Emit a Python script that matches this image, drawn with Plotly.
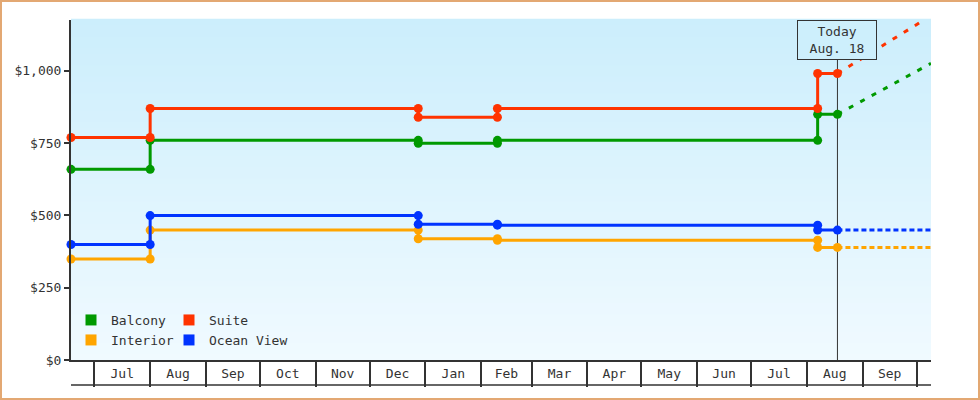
import plotly.graph_objects as go

# price change dates (segment boundaries), today and right edge of the chart
dates = ["2022-06-18", "2022-08-01", "2022-12-28", "2023-02-10", "2023-08-07", "2023-08-18"]
today = "2023-08-18"
range_end = "2023-10-09"

# fare per segment, one value between each pair of dates
balcony = [659, 759, 749, 759, 849]
suite = [769, 869, 839, 869, 990]
interior = [349, 449, 419, 414, 389]
ocean_view = [399, 499, 469, 466, 449]

# projected fares at the right edge
balcony_proj = 1025
suite_proj = 1190
interior_proj = 389
ocean_view_proj = 449

names = ["Interior", "Ocean View", "Balcony", "Suite"]
values = [interior, ocean_view, balcony, suite]
projections = [interior_proj, ocean_view_proj, balcony_proj, suite_proj]
colors = ["#FFA500", "#0033FF", "#009900", "#FF3300"]

FONT = "DejaVu Sans Mono"
INK = "#333333"
W, H = 980, 400
ML, MR, MT, MB = 71, 49, 20, 40
PW, PH = W - ML - MR, H - MT - MB


def steps(vals):
    xs, ys = [], []
    for i, v in enumerate(vals):
        xs += [dates[i], dates[i + 1]]
        ys += [v, v]
    return xs, ys


fig = go.Figure()

for name, vals, proj, col in zip(names, values, projections, colors):
    dash = "5px,8px" if proj != vals[-1] else "5px,3px"
    fig.add_trace(go.Scatter(
        x=[today, range_end], y=[vals[-1], proj], mode="lines",
        line=dict(color=col, width=3, dash=dash),
        showlegend=False, hoverinfo="skip",
    ))

for name, vals, col in zip(names, values, colors):
    xs, ys = steps(vals)
    fig.add_trace(go.Scatter(
        x=xs, y=ys, mode="lines+markers", name=name,
        line=dict(color=col, width=3),
        marker=dict(color=col, size=9, symbol="circle"),
        cliponaxis=False, showlegend=False,
    ))

# legend: one small legend per entry, laid out two by two
# (name -> legend id, left edge of the square in px, row)
legend_slots = {
    "Balcony": ("legend", 85, 0),
    "Suite": ("legend2", 183, 0),
    "Interior": ("legend3", 85, 1),
    "Ocean View": ("legend4", 183, 1),
}
for name, (leg, _, _) in legend_slots.items():
    col = colors[names.index(name)]
    fig.add_trace(go.Scatter(
        x=[None], y=[None], mode="markers", name=name,
        marker=dict(color=col, size=11, symbol="square"),
        legend=leg,
    ))

# gradient background
shapes = []
n_bands = 60
top_rgb = (204, 238, 252)
bot_rgb = (240, 250, 255)
for i in range(n_bands):
    t = i / (n_bands - 1)
    c = [round(b + (a - b) * t) for a, b in zip(top_rgb, bot_rgb)]
    shapes.append(dict(
        type="rect", xref="x domain", yref="y domain",
        x0=0, x1=1, y0=i / n_bands, y1=(i + 1) / n_bands + 0.004,
        fillcolor="rgb(%d,%d,%d)" % tuple(c), line_width=0, layer="below",
    ))

# today marker line
shapes.append(dict(
    type="line", xref="x", yref="y domain", x0=today, x1=today, y0=0, y1=1,
    line=dict(color=INK, width=1), layer="below",
))
# bottom line of the month boxes
shapes.append(dict(
    type="line", xref="paper", yref="paper", x0=0, x1=1,
    y0=-25 / PH, y1=-25 / PH, line=dict(color=INK, width=1.5),
))
# outer border
shapes.append(dict(
    type="rect", xref="paper", yref="paper",
    x0=(1 - ML) / PW, x1=(W - 1 - ML) / PW,
    y0=-(MB - 1) / PH, y1=(H - MB - 1) / PH,
    line=dict(color="#E3A873", width=2), fillcolor="rgba(0,0,0,0)",
))

legends = {}
for name, (leg, px, row_i) in legend_slots.items():
    legends[leg] = dict(
        orientation="h", xanchor="left", yanchor="middle",
        bgcolor="rgba(0,0,0,0)", itemwidth=30,
        x=(px - ML - 14) / PW, y=(360 - 320 - 20 * row_i) / PH,
        font=dict(family=FONT, size=13, color=INK),
    )

fig.update_layout(
    width=W, height=H,
    margin=dict(l=ML, r=MR, t=MT, b=MB),
    paper_bgcolor="white", plot_bgcolor="rgba(0,0,0,0)",
    font=dict(family=FONT, size=13, color=INK),
    shapes=shapes,
    annotations=[dict(
        x=today, xref="x", y=1, yref="paper", yanchor="top",
        text="Today<br>Aug. 18", showarrow=False,
        width=78, height=38, borderpad=0,
        bordercolor=INK, borderwidth=1, bgcolor="rgb(205,239,252)",
        font=dict(family=FONT, size=13, color=INK),
    )],
    **legends,
)

fig.update_xaxes(
    type="date", range=[dates[0], range_end],
    dtick="M1", tick0="2022-07-01", tickformat="%b", ticklabelmode="period",
    ticks="outside", ticklen=25, tickwidth=1.5, tickcolor=INK,
    ticklabelstandoff=-24,
    showline=True, linecolor=INK, linewidth=1.5,
    showgrid=False, zeroline=False,
)
fig.update_yaxes(
    range=[0, 1175], tickvals=[0, 250, 500, 750, 1000], tickformat="$,",
    ticks="outside", ticklen=5, tickwidth=2, tickcolor=INK,
    showline=True, linecolor=INK, linewidth=2,
    showgrid=False, zeroline=False,
)

fig.write_html(
    "out.html",
    config={"displayModeBar": False},
    post_script="document.body.style.margin='0';",
)
